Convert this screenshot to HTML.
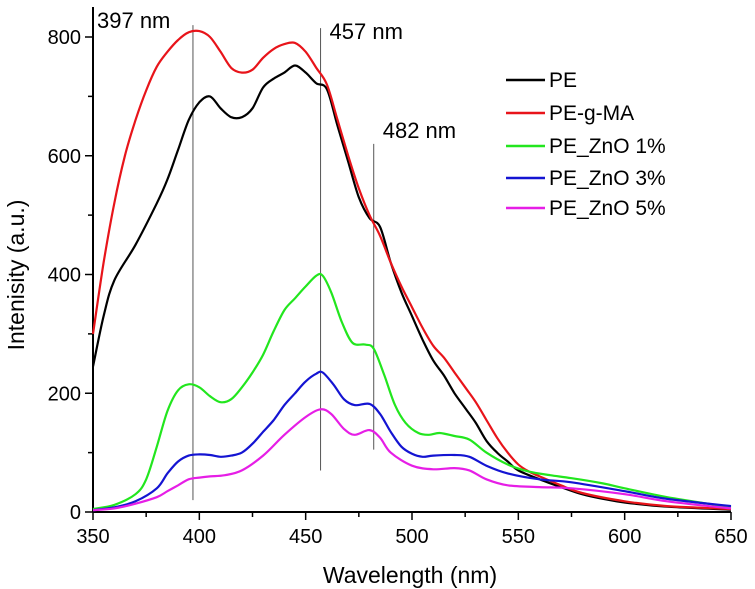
<!DOCTYPE html>
<html><head><meta charset="utf-8"><style>
body{margin:0;background:#fff;}
svg{display:block;font-family:"Liberation Sans",sans-serif;}
</style></head><body>
<svg id="chart" width="755" height="589" viewBox="0 0 755 589">
<rect x="0" y="0" width="755" height="589" fill="#fff"/>
<g id="axes"></g>
<g id="marks"></g>
<g id="legend"></g>
<text x="410" y="583" font-size="23" text-anchor="middle">Wavelength (nm)</text>
<text transform="translate(24,275) rotate(-90)" font-size="23" text-anchor="middle">Intenisity (a.u.)</text>
</svg>
<script>
const xTicks=[350,400,450,500,550,600,650];
const yTicks=[0,200,400,600,800];
const seriesNames=["PE","PE-g-MA","PE_ZnO 1%","PE_ZnO 3%","PE_ZnO 5%"];
const seriesColors=["#000","#e8141a","#22e61e","#1414d2","#e61ee6"];
const peakWl=[397,457,482];
const peakLabels=["397 nm","457 nm","482 nm"];
const peakTop=[820,815,620];
const peakBottom=[20,70,105];
const pe=[[350,245],[355,330],[360,390],[370,450],[380,520],[385,560],[390,610],[395,660],[400,690],[405,700],[410,680],[415,665],[420,665],[425,680],[430,715],[435,730],[440,740],[445,752],[450,740],[455,722],[460,712],[465,650],[470,590],[475,530],[480,495],[485,480],[490,420],[495,370],[500,330],[505,290],[510,255],[515,230],[520,200],[525,175],[530,150],[535,120],[540,100],[545,85],[550,70],[560,55],[570,42],[580,30],[590,22],[600,16],[620,9],[650,4]];
const pegma=[[350,300],[355,420],[360,520],[365,600],[370,660],[375,710],[380,750],[385,775],[390,795],[395,808],[400,810],[405,800],[410,775],[415,748],[420,740],[425,745],[430,765],[435,780],[440,788],[445,790],[450,775],[455,748],[460,720],[465,660],[470,600],[475,545],[480,500],[485,465],[490,420],[495,380],[500,345],[505,310],[510,280],[515,260],[520,235],[525,210],[530,185],[535,155],[540,125],[545,100],[550,80],[555,68],[560,60],[570,45],[580,32],[600,18],[620,10],[650,5]];
const zno1=[[350,5],[360,12],[370,30],[375,55],[380,110],[385,170],[390,205],[395,215],[400,210],[405,195],[410,185],[415,190],[420,210],[425,235],[430,265],[435,305],[440,340],[445,360],[450,380],[455,398],[458,398],[462,370],[467,320],[472,285],[478,282],[482,275],[487,230],[492,180],[497,150],[503,133],[508,130],[513,133],[520,128],[527,122],[535,100],[545,80],[555,68],[565,62],[575,57],[590,48],[600,40],[620,25],[650,8]];
const zno3=[[350,3],[360,8],[370,18],[380,40],[385,65],[390,85],[395,95],[400,97],[405,96],[410,93],[415,95],[420,100],[425,115],[430,135],[435,155],[440,180],[445,200],[450,220],[455,233],[458,235],[463,215],[468,190],[473,180],[480,182],[485,165],[490,135],[495,110],[500,98],[505,93],[510,95],[520,96],[527,93],[535,78],[545,65],[560,55],[575,50],[600,35],[620,22],[650,10]];
const zno5=[[350,3],[360,6],[370,14],[380,25],[385,35],[390,45],[395,55],[400,58],[405,60],[412,62],[420,70],[430,95],[440,130],[450,160],[457,173],[462,165],[468,140],[473,130],[480,138],[485,125],[490,100],[500,78],[510,72],[520,74],[527,70],[535,55],[545,45],[560,42],[575,40],[600,30],[620,18],[650,6]];
const allSeries=[pe,pegma,zno1,zno3,zno5];
const X0=93,X1=731,Y0=512,Y1=37;
function xs(v){return X0+(v-350)/300*(X1-X0);}
function ys(v){return Y0-v/800*(Y0-Y1);}
const NS="http://www.w3.org/2000/svg";
function mk(tag,attrs,parent){const e=document.createElementNS(NS,tag);for(const k in attrs)e.setAttribute(k,attrs[k]);parent.appendChild(e);return e;}
function smoothPath(pts){
  const p=pts.map(q=>[xs(q[0]),ys(q[1])]);
  let d='M'+p[0][0].toFixed(1)+' '+p[0][1].toFixed(1);
  for(let i=0;i<p.length-1;i++){
    const p0=p[i-1]||p[i],p1=p[i],p2=p[i+1],p3=p[i+2]||p2;
    const c1=[p1[0]+(p2[0]-p0[0])/6,p1[1]+(p2[1]-p0[1])/6];
    const c2=[p2[0]-(p3[0]-p1[0])/6,p2[1]-(p3[1]-p1[1])/6];
    d+=' C'+c1[0].toFixed(1)+' '+c1[1].toFixed(1)+' '+c2[0].toFixed(1)+' '+c2[1].toFixed(1)+' '+p2[0].toFixed(1)+' '+p2[1].toFixed(1);
  }
  return d;
}
const axes=document.getElementById('axes'),marks=document.getElementById('marks'),legend=document.getElementById('legend');
let e=mk('line',{x1:X0,y1:Y0,x2:X1,y2:Y0,stroke:'#000','stroke-width':2},axes);


e=mk('line',{x1:X0,y1:Y0,x2:X0,y2:7,stroke:'#000','stroke-width':2},axes);


for(let v=350;v<=650;v+=25){const major=(v%50===0);
e=mk('line',{x1:xs(v),y1:Y0,x2:xs(v),y2:Y0+(major?8:5),stroke:'#000','stroke-width':1.5},axes);

}
xTicks.forEach(v=>{e=mk('text',{x:xs(v),y:Y0+31,'font-size':20,'text-anchor':'middle'},axes);e.textContent=v;

});
for(let v=0;v<=800;v+=100){const major=(v%200===0);
e=mk('line',{x1:X0,y1:ys(v),x2:X0-(major?8:5),y2:ys(v),stroke:'#000','stroke-width':1.5},axes);

}
yTicks.forEach(v=>{e=mk('text',{x:X0-12,y:ys(v)+7,'font-size':20,'text-anchor':'end'},axes);e.textContent=v;

});
peakWl.forEach((w,i)=>{
e=mk('line',{x1:xs(w),y1:ys(peakTop[i]),x2:xs(w),y2:ys(peakBottom[i]),stroke:'#555','stroke-width':1},marks);


const lx=i===0?97:xs(w)+9, ly=i===0?28:(i===1?39:138);
e=mk('text',{x:lx,y:ly,'font-size':22},marks);e.textContent=peakLabels[i];

});
allSeries.forEach((s,i)=>{
e=mk('path',{d:smoothPath(s),fill:'none',stroke:seriesColors[i],'stroke-width':2.2,'stroke-linejoin':'round'},marks);


const ly=[87,120,153,185,215][i];
e=mk('line',{x1:506,y1:ly-7,x2:545,y2:ly-7,stroke:seriesColors[i],'stroke-width':2.5},legend);


e=mk('text',{x:549,y:ly,'font-size':21},legend);e.textContent=seriesNames[i];


});
</script>
</body></html>
